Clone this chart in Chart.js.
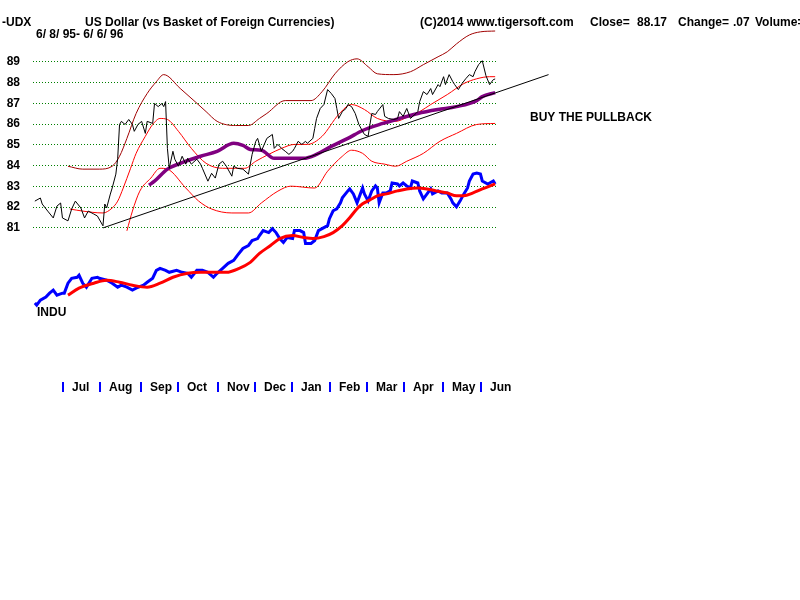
<!DOCTYPE html>
<html>
<head>
<meta charset="utf-8">
<title>UDX - US Dollar</title>
<script src="https://cdn.jsdelivr.net/npm/chart.js@4.4.1/dist/chart.umd.min.js"></script>
<style>
  html, body { margin: 0; padding: 0; background: #ffffff; }
  canvas { display: block; }
</style>
</head>
<body>
<canvas id="chart" width="800" height="600"></canvas>
<script>
// month axis (trading day index from 6/8/95)
const monthLabels = ['Jul', 'Aug', 'Sep', 'Oct', 'Nov', 'Dec', 'Jan', 'Feb', 'Mar', 'Apr', 'May', 'Jun'];
const monthStartDay = [15, 35, 57, 77, 99, 119, 139, 160, 180, 200, 221, 242];
const dollarTicks = [81, 82, 83, 84, 85, 86, 87, 88, 89];

// UDX closes
const udxDay = [0,3,4,7,10,12,14,15,18,20,22,25,27,29,32,34,37,38,39,41,42,44,45,46,47,49,51,53,54,56,58,60,61,64,65,67,69,70,71,72,73,75,76,78,80,82,83,85,88,90,91,94,96,98,100,102,104,107,108,110,113,116,118,120,121,123,126,129,130,132,134,136,138,140,141,143,145,147,148,151,152,153,155,157,159,161,163,164,165,167,169,170,172,174,176,178,179,181,182,183,185,186,189,190,192,195,197,198,200,202,204,207,208,209,211,213,215,216,219,220,222,223,225,227,228,230,232,234,236,238,239,241,243,245,247,249,250];
const udxClose = [82.29,82.44,82.15,81.81,81.48,82.05,82.20,81.48,81.34,81.91,82.29,81.96,81.48,81.81,81.67,81.57,81.10,82.15,81.96,82.63,82.92,83.59,84.35,85.98,86.13,85.98,86.22,85.98,85.65,85.98,86.13,85.55,86.13,86.03,86.99,86.84,86.99,86.84,87.08,84.83,83.87,84.69,84.31,83.97,84.45,84.07,84.35,84.07,84.31,84.07,83.87,83.25,83.63,83.40,84.07,84.21,83.97,83.49,83.97,83.87,83.83,83.59,84.54,85.17,85.31,84.69,85.31,85.50,84.83,85.02,84.83,84.69,84.54,84.69,84.83,85.17,85.02,85.17,85.07,85.31,85.79,86.27,86.75,86.94,87.66,87.47,87.23,86.75,86.27,86.60,86.75,86.94,86.84,86.51,85.98,85.65,85.50,85.41,85.98,86.51,86.46,86.60,86.94,86.37,86.27,86.22,86.27,86.60,86.37,86.75,86.27,86.51,86.60,87.08,87.56,87.42,87.71,87.42,87.90,87.80,88.28,87.90,88.38,88.04,87.90,87.66,87.95,88.18,88.38,88.28,88.52,88.86,89.05,88.33,87.90,88.14,88.17];

// moving average and bands
const bandUpDay = [18,26,35,42,46,50,55,61,66,70,79,87,93,99,109,116,122,126,136,150,156,163,170,175,181,186,195,204,211,219,224,229,236,242,250];
const bandUpVal = [83.97,83.83,83.83,83.97,84.45,85.31,86.51,87.47,88.04,88.38,87.71,87.08,86.60,86.13,85.93,85.93,86.27,86.51,87.13,87.13,87.56,88.42,89.00,89.14,88.76,88.42,88.38,88.52,88.86,89.24,89.48,89.86,90.29,90.44,90.48];
const maDay = [19,26,37,42,45,48,52,55,60,64,68,72,78,85,93,102,109,114,120,127,134,141,148,156,165,172,179,186,196,202,209,215,224,233,240,247,250];
const maVal = [81.91,81.81,81.72,81.96,82.29,82.92,83.87,84.59,85.41,85.98,86.27,86.22,85.65,84.83,84.11,83.87,83.87,83.87,84.21,84.54,84.83,85.02,85.02,85.41,86.46,86.94,86.70,86.27,86.13,86.32,86.60,86.94,87.42,87.95,88.18,88.28,88.28];
const bandLoDay = [50,53,57,63,68,72,82,89,96,107,116,123,132,139,152,159,167,172,178,183,190,196,202,211,220,229,240,250];
const bandLoVal = [80.86,81.81,82.77,83.40,83.87,83.83,82.92,82.29,81.91,81.72,81.72,82.20,82.77,83.01,82.92,83.73,84.45,84.74,84.59,84.21,84.07,83.97,84.21,84.59,85.17,85.55,85.98,86.03];
const longMaDay = [62,65,72,79,90,99,108,113,117,123,130,139,146,153,160,170,178,189,198,208,219,229,240,243,250];
const longMaVal = [83.06,83.25,83.83,84.11,84.45,84.69,85.07,84.97,84.78,84.74,84.35,84.35,84.35,84.54,84.88,85.31,85.69,86.03,86.27,86.51,86.70,86.84,87.13,87.32,87.51];
const trendDay = [37, 279];
const trendVal = [81.00, 88.38];

// INDU (own hidden scale)
const induDay = [0,1,3,6,8,10,12,15,16,18,20,23,24,26,28,31,34,35,39,42,45,47,50,53,55,59,61,64,66,68,71,73,77,80,83,85,88,91,94,97,99,102,105,108,110,113,116,118,121,122,124,127,129,131,133,135,137,140,141,144,146,147,150,152,154,157,159,160,162,164,166,167,170,171,173,175,178,179,181,183,185,186,187,189,191,193,194,197,198,200,202,204,205,208,209,211,213,215,216,219,221,224,226,227,229,231,233,235,236,238,240,242,243,246,247,249,250];
const induVal = [4476,4456,4506,4536,4576,4606,4556,4576,4576,4676,4726,4736,4756,4676,4636,4726,4736,4726,4706,4676,4636,4656,4636,4606,4626,4656,4686,4726,4806,4826,4806,4786,4806,4786,4776,4736,4806,4806,4786,4736,4776,4826,4876,4906,4956,5026,5056,5106,5126,5156,5206,5186,5226,5186,5126,5086,5136,5126,5206,5206,5186,5076,5076,5106,5206,5236,5256,5326,5406,5426,5486,5536,5606,5626,5576,5486,5636,5576,5506,5606,5656,5636,5486,5586,5586,5606,5686,5676,5656,5686,5656,5636,5706,5686,5606,5526,5576,5626,5576,5606,5586,5586,5526,5486,5446,5506,5576,5636,5706,5776,5786,5776,5706,5676,5686,5706,5676];
const induMaDay = [18,24,32,39,46,53,61,68,75,83,90,97,104,111,117,122,128,133,140,146,151,157,162,167,171,175,178,182,186,191,197,202,208,213,218,224,229,233,238,243,250];
const induMaVal = [4556,4626,4676,4706,4686,4656,4636,4676,4736,4776,4786,4786,4786,4826,4886,4976,5056,5126,5156,5136,5126,5146,5186,5256,5336,5426,5476,5516,5556,5576,5606,5626,5636,5626,5606,5586,5556,5556,5586,5626,5676];

function pts(days, vals) {
    return days.map((d, i) => ({ x: d, y: vals[i] }));
}

const FONT = 'bold 12px "Liberation Sans", Arial, sans-serif';

// header texts, month axis and labels
const textPlugin = {
    id: 'tigerText',
    afterDraw(chart) {
        const ctx = chart.ctx;
        const xs = chart.scales.x;
        ctx.save();
        ctx.font = FONT;
        ctx.fillStyle = '#000000';
        ctx.textBaseline = 'alphabetic';
        ctx.textAlign = 'left';
        ctx.fillText('-UDX', 2, 26);
        ctx.fillText('US Dollar (vs Basket of Foreign Currencies)', 85, 26);
        ctx.fillText('6/ 8/ 95- 6/ 6/ 96', 36, 38);
        ctx.fillText('(C)2014 www.tigersoft.com', 420, 26);
        ctx.fillText('Close=', 590, 26);
        ctx.fillText('88.17', 637, 26);
        ctx.fillText('Change=', 678, 26);
        ctx.fillText('.07', 733, 26);
        ctx.fillText('Volume=', 755, 26);
        ctx.fillText('BUY THE PULLBACK', 530, 121);
        ctx.fillText('INDU', 37, 316);

        monthStartDay.forEach((d, i) => {
            const px = Math.round(xs.getPixelForValue(d));
            ctx.fillStyle = '#0000ff';
            ctx.fillRect(px, 382, 2, 10);
            ctx.fillStyle = '#000000';
            ctx.fillText(monthLabels[i], px + 10, 391);
        });
        ctx.restore();
    }
};

const thin = { pointRadius: 0, borderWidth: 1, fill: false };

new Chart(document.getElementById('chart'), {
    type: 'line',
    data: {
        datasets: [
            { ...thin, label: 'UDX', data: pts(udxDay, udxClose), borderColor: '#000000', tension: 0, order: 1 },
            { ...thin, label: 'Trend', data: pts(trendDay, trendVal), borderColor: '#000000', tension: 0, clip: false, order: 2 },
            { ...thin, label: 'Long MA', data: pts(longMaDay, longMaVal), borderColor: '#800080', borderWidth: 3.5, cubicInterpolationMode: 'monotone', order: 3 },
            { ...thin, label: 'Upper band', data: pts(bandUpDay, bandUpVal), borderColor: '#a00000', cubicInterpolationMode: 'monotone', order: 4 },
            { ...thin, label: 'MA', data: pts(maDay, maVal), borderColor: '#ff0000', cubicInterpolationMode: 'monotone', order: 4 },
            { ...thin, label: 'Lower band', data: pts(bandLoDay, bandLoVal), borderColor: '#ff0000', cubicInterpolationMode: 'monotone', order: 4 },
            { ...thin, label: 'INDU MA', data: pts(induMaDay, induMaVal), yAxisID: 'y2', borderColor: '#ff0000', borderWidth: 3, cubicInterpolationMode: 'monotone', order: 5 },
            { ...thin, label: 'INDU', data: pts(induDay, induVal), yAxisID: 'y2', borderColor: '#0000ff', borderWidth: 3, tension: 0, order: 6 }
        ]
    },
    options: {
        responsive: false,
        animation: false,
        devicePixelRatio: 1,
        layout: { padding: { left: 0, top: 18, right: 303, bottom: 289 } },
        plugins: {
            legend: { display: false },
            tooltip: { enabled: false },
            title: { display: false }
        },
        elements: { point: { radius: 0 } },
        scales: {
            x: {
                type: 'linear',
                min: -1,
                max: 251,
                display: false
            },
            y: {
                type: 'linear',
                position: 'left',
                min: 77,
                max: 91,
                afterFit(axis) { axis.width = 33; },
                afterBuildTicks(axis) { axis.ticks = dollarTicks.map(v => ({ value: v })); },
                ticks: {
                    color: '#000000',
                    padding: 13,
                    font: { family: '"Liberation Sans", Arial, sans-serif', size: 12, weight: 'bold' }
                },
                grid: { color: '#008000', lineWidth: 1, drawTicks: false },
                border: { display: false, dash: [1, 2] }
            },
            y2: {
                type: 'linear',
                min: 4396,
                max: 7326,
                display: false
            }
        }
    },
    plugins: [textPlugin]
});
</script>
</body>
</html>
